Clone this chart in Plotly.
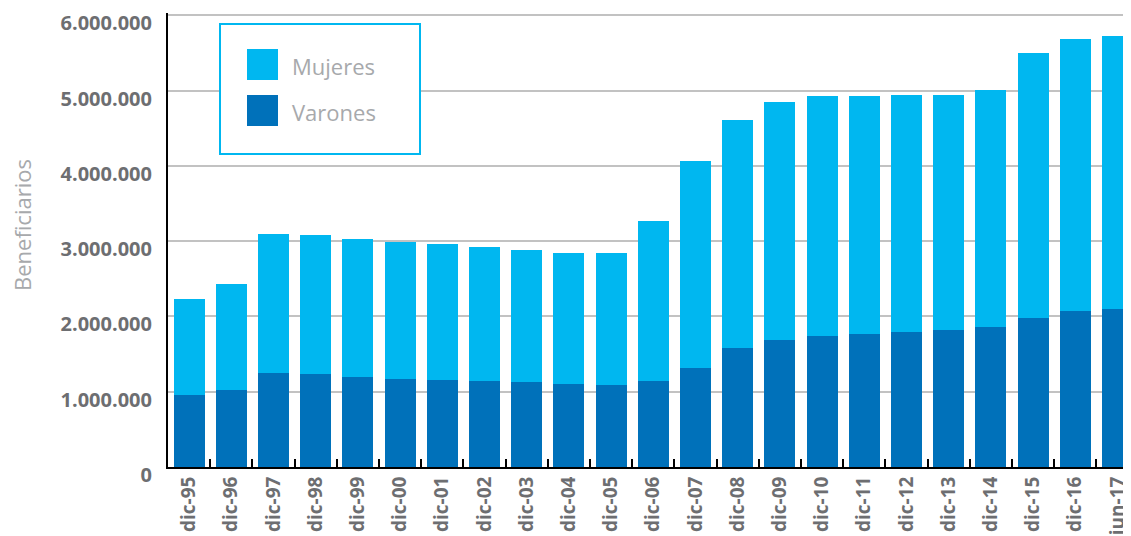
import plotly.graph_objects as go

# Datos (beneficiarios por sexo)
periodos = ['dic-95', 'dic-96', 'dic-97', 'dic-98', 'dic-99', 'dic-00', 'dic-01', 'dic-02',
            'dic-03', 'dic-04', 'dic-05', 'dic-06', 'dic-07', 'dic-08', 'dic-09', 'dic-10',
            'dic-11', 'dic-12', 'dic-13', 'dic-14', 'dic-15', 'dic-16', 'jun-17']
varones = [953000, 1020000, 1246000, 1233000, 1193000, 1166000, 1153000, 1140000,
           1126000, 1100000, 1087000, 1140000, 1312000, 1578000, 1685000, 1738000,
           1765000, 1791000, 1818000, 1858000, 1978000, 2071000, 2098000]
totales = [2230000, 2430000, 3095000, 3081000, 3028000, 2988000, 2961000, 2921000,
           2881000, 2841000, 2841000, 3270000, 4065000, 4610000, 4850000, 4930000,
           4930000, 4943000, 4943000, 5010000, 5501000, 5688000, 5728000]
mujeres = [t - v for t, v in zip(totales, varones)]

AZUL_CLARO = '#00B7F0'
AZUL_OSCURO = '#0071BA'
GRIS_TEXTO = '#6D6E71'
GRIS_CLARO = '#A7A9AC'

# la página deja 8 px de margen en el body: se compensa aquí
OFF = 8
W, H = 1131 - OFF, 536 - OFF
L, R, T, B = 168 - OFF, 0, 13 - OFF, 69


def px2paper(x, y):
    # coordenadas de la ventana -> coordenadas paper
    x, y = x - OFF, y - OFF
    return (x - L) / (W - L - R), (H - B - y) / (H - T - B)


fig = go.Figure()
fig.add_trace(go.Bar(x=periodos, y=varones, name='Varones', marker_color=AZUL_OSCURO,
                     marker_line_width=0))
fig.add_trace(go.Bar(x=periodos, y=mujeres, name='Mujeres', marker_color=AZUL_CLARO,
                     marker_line_width=0))

# Leyenda dibujada a mano (recuadro con cuadrados grandes)
x0, y0 = px2paper(220, 154)
x1, y1 = px2paper(420, 24)
fig.add_shape(type='rect', xref='paper', yref='paper', x0=x0, y0=y0, x1=x1, y1=y1,
              line=dict(color=AZUL_CLARO, width=2), fillcolor='white', layer='above')
for nombre, color, ytop in [('Mujeres', AZUL_CLARO, 49), ('Varones', AZUL_OSCURO, 95)]:
    a, b = px2paper(247, ytop + 31)
    c, d = px2paper(278, ytop)
    fig.add_shape(type='rect', xref='paper', yref='paper', x0=a, y0=b, x1=c, y1=d,
                  line_width=0, fillcolor=color, layer='above')
    tx, ty = px2paper(290, ytop + 17)
    fig.add_annotation(xref='paper', yref='paper', x=tx, y=ty, text=nombre, showarrow=False,
                       xanchor='left', yanchor='middle',
                       font=dict(family='Open Sans', size=22, color=GRIS_CLARO))

# título del eje y como anotación (está más arriba que el centro del eje)
tx, ty = px2paper(22, 225)
fig.add_annotation(xref='paper', yref='paper', x=tx, y=ty, text='Beneficiarios',
                   showarrow=False, textangle=-90, xanchor='center', yanchor='middle',
                   font=dict(family='Open Sans', size=22, color=GRIS_CLARO))

fig.update_layout(
    width=W, height=H,
    barmode='stack',
    bargap=0.265,
    showlegend=False,
    separators=',.',
    plot_bgcolor='white',
    paper_bgcolor='white',
    margin=dict(l=L, r=R, t=T, b=B, autoexpand=False),
    font=dict(family='Open Sans', color=GRIS_TEXTO),
)
fig.update_xaxes(
    range=[-0.5, 22.32],
    showline=True, linecolor='black', linewidth=2,
    ticks='inside', tickson='boundaries', ticklen=8, tickwidth=2, tickcolor='black',
    tickangle=-90,
    tickfont=dict(family='Open Sans', size=19, color=GRIS_TEXTO, weight='bold'),
    automargin=False,
    showgrid=False,
)
fig.update_yaxes(
    range=[0, 6030000],
    tickvals=[0, 1000000, 2000000, 3000000, 4000000, 5000000, 6000000],
    tickformat=',d',
    showline=True, linecolor='black', linewidth=2,
    showgrid=True, gridcolor='#C2C2C2', gridwidth=2,
    ticks='outside', ticklen=10, tickcolor='rgba(0,0,0,0)',
    ticklabelshift=8,
    tickfont=dict(family='Open Sans', size=20, color=GRIS_TEXTO, weight='bold'),
    automargin=False,
    zeroline=False,
)

fig.write_html("out.html")
